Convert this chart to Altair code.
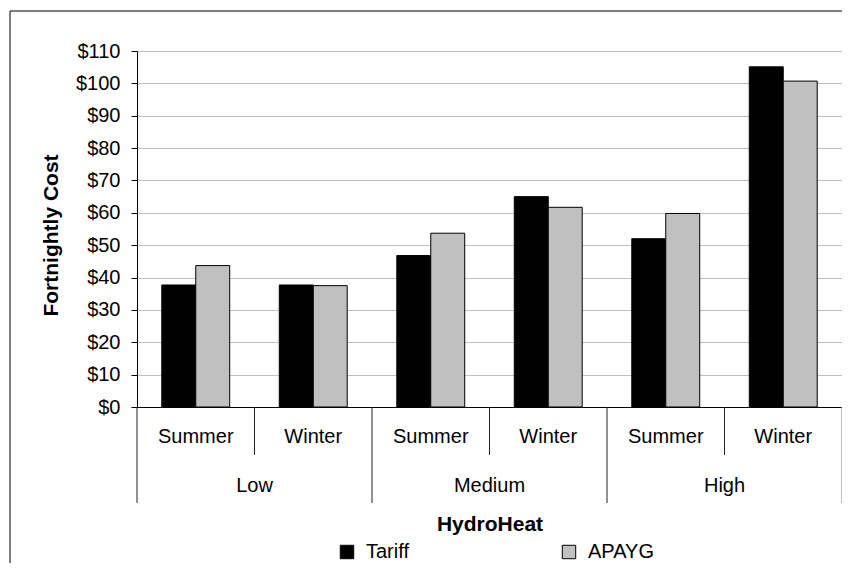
import altair as alt
import pandas as pd

# ---- data ----
groups = ["Low", "Low", "Medium", "Medium", "High", "High"]
seasons = ["Summer", "Winter", "Summer", "Winter", "Summer", "Winter"]
series_names = ["Tariff", "APAYG"]
tariff = [37.7, 37.7, 46.8, 65.0, 52.0, 105.1]
apayg = [43.7, 37.5, 53.7, 61.7, 59.8, 100.7]
y_ticks = [0, 10, 20, 30, 40, 50, 60, 70, 80, 90, 100, 110]

cats = [f"{g} {s}" for g, s in zip(groups, seasons)]

rows = []
for c, t, a in zip(cats, tariff, apayg):
    rows.append({"cat": c, "series": "Tariff", "value": t})
    rows.append({"cat": c, "series": "APAYG", "value": a})
bars_df = pd.DataFrame(rows)

labels_df = pd.DataFrame({"cat": cats, "group": groups, "season": seasons,
                          "idx": list(range(len(cats)))})
frame_df = pd.DataFrame({"frame": [0]})

W, H = 705, 356
FONT = "Liberation Sans"

xscale = alt.Scale(domain=cats, paddingInner=0, paddingOuter=0)
xaxis = alt.Axis(labels=False, ticks=False, domain=True, domainColor="black",
                 grid=False, title="HydroHeat", titleFontSize=21,
                 titleFontWeight="bold", titleColor="black", titleY=123,
                 titleBaseline="alphabetic", titleFont=FONT)

frame = alt.Chart(frame_df).mark_rect(
    fill="white", fillOpacity=0, stroke="black", strokeWidth=1
).encode(
    x=alt.value(-127), x2=alt.value(W + 40),
    y=alt.value(-40), y2=alt.value(H + 220),
)

bars = alt.Chart(bars_df).mark_bar(stroke="black", strokeWidth=1).encode(
    x=alt.X("cat:N", scale=xscale, axis=xaxis),
    xOffset=alt.XOffset("series:N", sort=series_names,
                        scale=alt.Scale(domain=series_names, paddingInner=0,
                                        paddingOuter=0.73)),
    y=alt.Y("value:Q",
            scale=alt.Scale(domain=[0, 110], nice=False, zero=True),
            axis=alt.Axis(values=y_ticks, labelExpr="'$' + datum.value",
                          labelFontSize=20, labelFont=FONT, labelColor="black",
                          labelPadding=11, tickSize=6, tickColor="black",
                          domainColor="black", gridColor="#C0C0C0",
                          title="Fortnightly Cost", titleFontSize=21,
                          titleFont=FONT, titleFontWeight="bold",
                          titleColor="black", titleAngle=270, titleX=-80,
                          titleY=184, titleBaseline="alphabetic",
                          titleAlign="center")),
    fill=alt.Fill("series:N", sort=series_names,
                  scale=alt.Scale(domain=series_names,
                                  range=["#000000", "#C0C0C0"]),
                  legend=alt.Legend(orient="none", legendX=200, legendY=491,
                                    direction="horizontal", title=None,
                                    labelFontSize=20, labelFont=FONT,
                                    labelColor="black", symbolType="square",
                                    symbolSize=180, symbolStrokeColor="black",
                                    symbolStrokeWidth=1, labelOffset=9,
                                    columnPadding=150, padding=0)),
)

season_text = alt.Chart(labels_df).mark_text(
    fontSize=20, font=FONT, color="black", baseline="middle"
).encode(
    x=alt.X("cat:N", scale=xscale),
    y=alt.value(386),
    text="season:N",
)

group_text = alt.Chart(labels_df).transform_filter(
    alt.datum.season == "Summer"
).mark_text(
    fontSize=20, font=FONT, color="black", baseline="middle"
).encode(
    x=alt.X("cat:N", scale=xscale, bandPosition=1),
    y=alt.value(435),
    text="group:N",
)

short_rules = alt.Chart(labels_df).transform_filter(
    alt.datum.season == "Winter"
).mark_rule(color="#222222", strokeWidth=1).encode(
    x=alt.X("cat:N", scale=xscale, bandPosition=0),
    y=alt.value(H), y2=alt.value(H + 48),
)

long_rules = alt.Chart(labels_df).transform_filter(
    alt.datum.season == "Summer"
).mark_rule(color="#222222", strokeWidth=1).encode(
    x=alt.X("cat:N", scale=xscale, bandPosition=0),
    y=alt.value(H), y2=alt.value(H + 96),
)

end_rule = alt.Chart(labels_df).transform_filter(
    alt.datum.idx == len(cats) - 1
).mark_rule(color="#808080", strokeWidth=1).encode(
    x=alt.X("cat:N", scale=xscale, bandPosition=1),
    y=alt.value(H), y2=alt.value(H + 96),
)

chart = alt.layer(
    frame, bars, season_text, group_text, short_rules, long_rules, end_rule
).properties(
    width=W, height=H,
    autosize=alt.AutoSizeParams(type="none"),
    padding={"left": 129, "top": 43, "right": 0, "bottom": 156},
).configure(font=FONT).configure_view(strokeWidth=0)

chart.save("out.html", embed_options={"renderer": "svg", "actions": False})
